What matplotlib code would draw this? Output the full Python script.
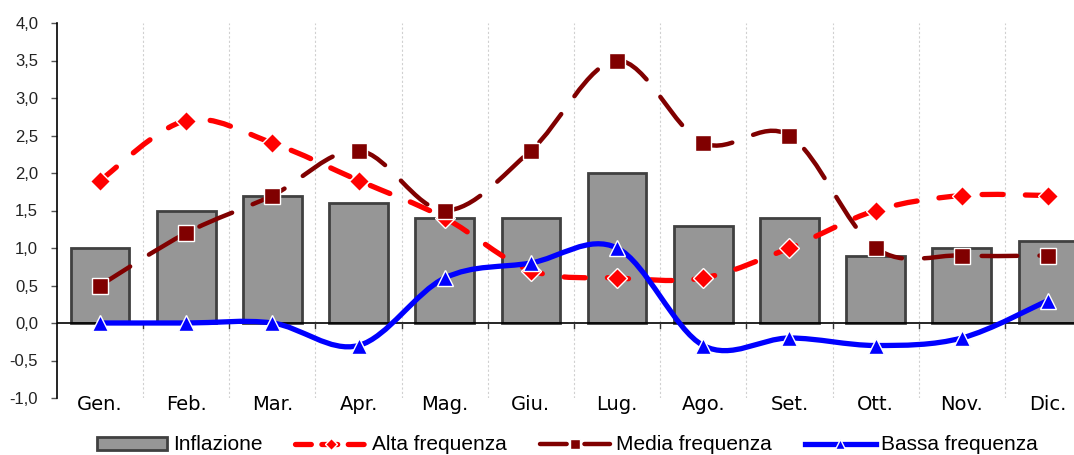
import numpy as np
import matplotlib
matplotlib.use("Agg")
import matplotlib.pyplot as plt
from matplotlib.path import Path
from matplotlib.patches import PathPatch
from matplotlib.lines import Line2D
from matplotlib.patches import Patch

months = ["Gen.", "Feb.", "Mar.", "Apr.", "Mag.", "Giu.",
          "Lug.", "Ago.", "Set.", "Ott.", "Nov.", "Dic."]
inflazione = [1.0, 1.5, 1.7, 1.6, 1.4, 1.4, 2.0, 1.3, 1.4, 0.9, 1.0, 1.1]
alta = [1.9, 2.7, 2.4, 1.9, 1.4, 0.7, 0.6, 0.6, 1.0, 1.5, 1.7, 1.7]
media = [0.5, 1.2, 1.7, 2.3, 1.5, 2.3, 3.5, 2.4, 2.5, 1.0, 0.9, 0.9]
bassa = [0.0, 0.0, 0.0, -0.3, 0.6, 0.8, 1.0, -0.3, -0.2, -0.3, -0.2, 0.3]
yticks = [-1.0, -0.5, 0.0, 0.5, 1.0, 1.5, 2.0, 2.5, 3.0, 3.5, 4.0]

narrow = ["Liberation Sans Narrow", "Liberation Sans", "DejaVu Sans"]


def smooth_path(xs, ys):
    # excel-like smoothed line: cubic bezier segments, catmull-rom tangents
    pts = np.column_stack([xs, ys]).astype(float)
    n = len(pts)
    verts = [pts[0]]
    codes = [Path.MOVETO]
    for i in range(n - 1):
        p0 = pts[i - 1] if i > 0 else pts[i]
        p1 = pts[i]
        p2 = pts[i + 1]
        p3 = pts[i + 2] if i + 2 < n else pts[i + 1]
        c1 = p1 + (p2 - p0) / 6.0
        c2 = p2 - (p3 - p1) / 6.0
        verts += [c1, c2, p2]
        codes += [Path.CURVE4] * 3
    return Path(verts, codes)


fig = plt.figure(figsize=(10.74, 4.55), dpi=100)
ax = fig.add_axes([57 / 1074, 1 - 398 / 455, 1034 / 1074, 375 / 455])

x = np.arange(len(months))
ax.bar(x, inflazione, width=0.68, color="#969696", edgecolor="#404040",
       linewidth=2, zorder=2)
ax.axhline(0, color="black", lw=1.2, zorder=3)

series = [
    (alta, "#ff0000", (0, (4, 4.2)), "D", 10, 3.8),
    (media, "#800000", (0, (8, 5)), "s", 11, 3.2),
    (bassa, "#0000ff", "solid", "^", 12, 3.8),
]
for vals, col, ls, mk, ms, lw in series:
    patch = PathPatch(smooth_path(x, vals), facecolor="none", edgecolor=col,
                      lw=lw, linestyle=ls, capstyle="round", zorder=4)
    ax.add_patch(patch)
    ax.plot(x, vals, linestyle="none", marker=mk, ms=ms, color=col,
            markeredgecolor="white", markeredgewidth=1.0, zorder=5)

ax.set_xlim(-0.5, 11.5)
ax.set_ylim(-1.0, 4.0)
ax.set_yticks(yticks)
ax.set_yticklabels([f"{v:.1f}".replace(".", ",") for v in yticks],
                   family=narrow, fontsize=12, color="#222222")
ax.tick_params(axis="y", length=4.5, width=1, color="#555555", pad=9)

ax.set_xticks(x)
ax.set_xticklabels(months, fontsize=14)
ax.tick_params(axis="x", length=0, pad=-2)
for b in np.arange(0.5, 11.5, 1.0):
    ax.axvline(b, color="#d0d0d0", lw=0.8, linestyle=(0, (2, 2)), zorder=1)
    ax.plot([b, b], [0, -0.07], color="#333333", lw=1, zorder=3,
            clip_on=False)

for s in ["top", "right", "bottom"]:
    ax.spines[s].set_visible(False)
ax.spines["left"].set_linewidth(1.2)

handles = [
    Patch(facecolor="#969696", edgecolor="#404040", linewidth=2),
    Line2D([], [], color="#ff0000", lw=3.8, linestyle=(0, (3, 2)),
           marker="D", ms=6, markeredgecolor="white", dash_capstyle="round"),
    Line2D([], [], color="#800000", lw=3.2, linestyle=(0, (6, 4)),
           marker="s", ms=7, markeredgecolor="white", dash_capstyle="round"),
    Line2D([], [], color="#0000ff", lw=3.8, marker="^", ms=7,
           markeredgecolor="white"),
]
labels = ["Inflazione", "Alta frequenza", "Media frequenza", "Bassa frequenza"]
fig.legend(handles, labels, loc="center", bbox_to_anchor=(0.528, 0.022),
           ncol=4, frameon=False, prop={"family": narrow, "size": 15},
           handlelength=3.4, handleheight=0.6, handletextpad=0.25,
           columnspacing=1.6, borderpad=0)

fig.savefig("out.png", dpi=100)
